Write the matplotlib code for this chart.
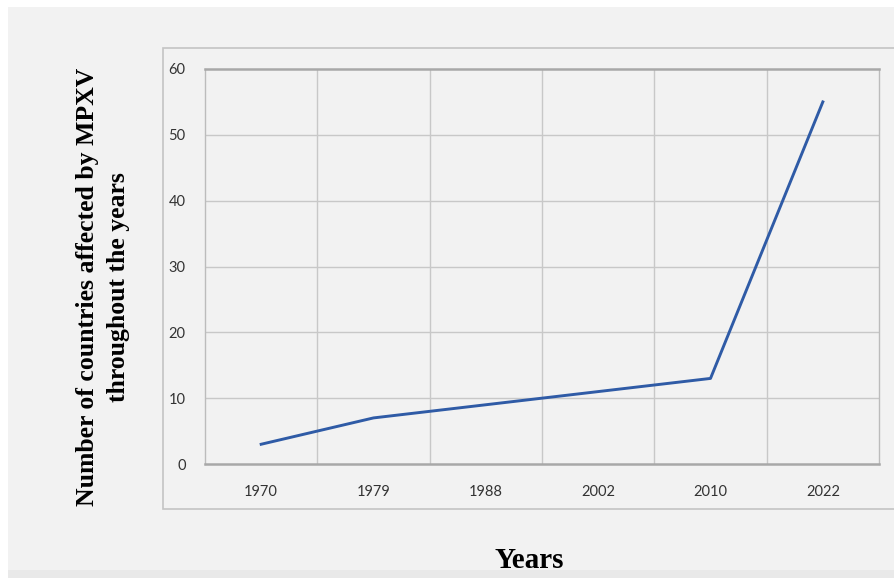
import numpy as np
import matplotlib.pyplot as plt
from matplotlib.patches import Rectangle

years = ['1970', '1979', '1988', '2002', '2010', '2022']
countries = [3, 7, 9, 11, 13, 55]
y_ticks = [0, 10, 20, 30, 40, 50, 60]

W, H = 894, 578
fig = plt.figure(figsize=(W / 100, H / 100), dpi=100)
fig.patch.set_facecolor('white')

# gray panel behind everything, and the chart box
fig.add_artist(Rectangle((8 / W, 8 / H), 1, 563 / H, transform=fig.transFigure,
                         facecolor='#f2f2f2', edgecolor='none', zorder=0))
fig.add_artist(Rectangle((8 / W, 0), 1, 8 / H, transform=fig.transFigure,
                         facecolor='#e9e9e9', edgecolor='none', zorder=0))
fig.add_artist(Rectangle((163 / W, (H - 509) / H), 1, (509 - 48) / H,
                         transform=fig.transFigure, facecolor='#f2f2f2',
                         edgecolor='#c4c4c4', linewidth=1.2, zorder=0))

ax = fig.add_axes([205 / W, (H - 464) / H, (879 - 205) / W, (464 - 69) / H])
ax.set_facecolor('#f2f2f2')

x = np.arange(len(years))
ax.plot(x, countries, color='#2f5ba6', linewidth=2.1, zorder=3)

ax.set_xlim(-0.5, len(years) - 0.5)
ax.set_ylim(0, 60)
ax.set_yticks(y_ticks)
ax.set_xticks(x)
ax.set_xticklabels(years)

for v in y_ticks[1:-1]:
    ax.axhline(v, color='#c8c8c8', linewidth=1.0, zorder=1)
for b in np.arange(0.5, len(years) - 0.5, 1):
    ax.axvline(b, color='#c8c8c8', linewidth=1.0, zorder=1)

for side in ['left', 'right']:
    ax.spines[side].set_color('#bcbcbc')
    ax.spines[side].set_linewidth(1.0)
for side in ['top', 'bottom']:
    ax.spines[side].set_color('#a8a8a8')
    ax.spines[side].set_linewidth(1.8)

ax.tick_params(axis='both', length=0, labelsize=10.5, colors='#333333')
ax.tick_params(axis='x', pad=15)
ax.tick_params(axis='y', pad=14)
for lab in ax.get_xticklabels() + ax.get_yticklabels():
    lab.set_fontfamily('Lato')

fig.text(103 / W, 1 - 287 / H,
         'Number of countries affected by MPXV\nthroughout the years',
         rotation=90, ha='center', va='center', fontsize=18.5,
         fontweight='bold', family='Liberation Serif', linespacing=1.4)
fig.text(529 / W, 1 - 561 / H, 'Years', ha='center', va='center',
         fontsize=21, fontweight='bold', family='Liberation Serif')

fig.savefig('out.png', dpi=100)
